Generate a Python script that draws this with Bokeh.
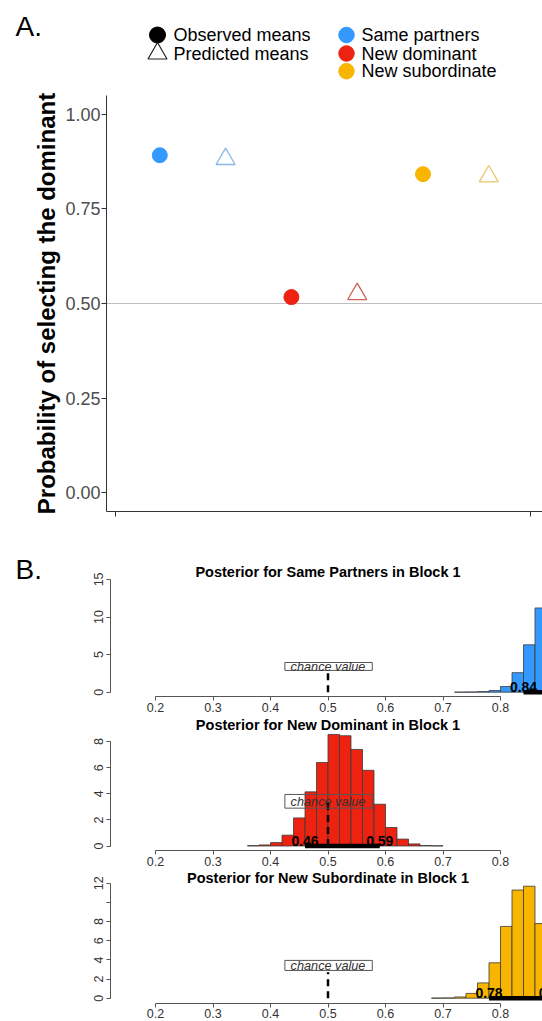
from bokeh.plotting import figure
from bokeh.models import Range1d, FixedTicker, NumeralTickFormatter
from bokeh.layouts import column
from bokeh.embed import file_html
from bokeh.resources import INLINE
from bokeh.core.properties import value

FONT = "Liberation Sans"
W = 542

# ---------------- Panel A data ----------------
groups = ["Same partners", "New dominant", "New subordinate"]
group_colors = ["#3399FF", "#EE2211", "#F7B500"]
pred_colors = ["#86B9E6", "#CF5F5A", "#EBC56B"]
observed_means = [0.892, 0.517, 0.842]
predicted_means = [0.882, 0.525, 0.836]
observed_x = [1, 3, 5]
predicted_x = [2, 4, 6]
a_y_ticks = [0.0, 0.25, 0.5, 0.75, 1.0]
a_x_ticks = [0.33, 6.63]
chance_value = 0.5
a_ylabel = "Probability of selecting the dominant"
shape_labels = ["Observed means", "Predicted means"]

# ---------------- Panel B data ----------------
bin_width = 0.02
sp_bins = [0.72, 0.74, 0.76, 0.78, 0.80, 0.82, 0.84, 0.86]
sp_density = [0.01, 0.03, 0.08, 0.22, 0.76, 2.6, 6.3, 11.2]
nd_bins = [0.36, 0.38, 0.40, 0.42, 0.44, 0.46, 0.48, 0.50, 0.52, 0.54,
           0.56, 0.58, 0.60, 0.62, 0.64, 0.66, 0.68]
nd_density = [0.03, 0.08, 0.26, 0.83, 2.15, 4.15, 6.4, 8.55, 8.45, 7.4,
              5.8, 3.2, 1.42, 0.53, 0.16, 0.04, 0.02]
ns_bins = [0.68, 0.70, 0.72, 0.74, 0.76, 0.78, 0.80, 0.82, 0.84, 0.86]
ns_density = [0.01, 0.03, 0.13, 0.5, 1.6, 3.7, 7.5, 11.3, 11.7, 7.8]
sp_hdi = [0.84, 0.93]
nd_hdi = [0.46, 0.59]
ns_hdi = [0.78, 0.89]
hist_x_ticks = [0.2, 0.3, 0.4, 0.5, 0.6, 0.7, 0.8]
sp_y_ticks = [0, 5, 10, 15]
nd_y_ticks = [0, 2, 4, 6, 8]
ns_y_ticks = [0, 2, 4, 6, 8, 12]
ns_y_unlabeled = [10]
hist_titles = ["Posterior for Same Partners in Block 1",
               "Posterior for New Dominant in Block 1",
               "Posterior for New Subordinate in Block 1"]
chance_label = "chance value"


def base_fig(height, x_range, y_range, axes=True):
    kw = {}
    if not axes:
        kw = dict(x_axis_location=None, y_axis_location=None)
    p = figure(width=W, height=height, x_range=x_range, y_range=y_range,
               toolbar_location=None, output_backend="svg", title=None,
               min_border_left=0, min_border_right=0, min_border_top=0, min_border_bottom=0,
               **kw)
    p.grid.visible = False
    p.outline_line_color = None
    p.background_fill_color = "white"
    p.border_fill_color = "white"
    return p


# ---------------- Legend strip with "A." (pixel-space layout figure) ----------------
leg = base_fig(87, Range1d(0, W), Range1d(87, 0), axes=False)
leg.text(x=[15], y=[25.5], text=["A."], text_font=value(FONT), text_font_size="28px",
         text_baseline="middle", text_align="left", text_color="black")
row_y = [34.5, 53.0, 70.7]
leg.scatter(x=[157], y=[row_y[0]], marker="circle", size=16, fill_color="black", line_color="black")
leg.scatter(x=[157], y=[row_y[1]], marker="triangle", size=19, fill_color=None,
            line_color="#222222", line_width=1.2)
leg.text(x=[173, 173], y=row_y[:2], text=shape_labels, text_font=value(FONT),
         text_font_size="18px", text_baseline="middle", text_align="left", text_color="black")
leg.scatter(x=[346, 346, 346], y=row_y, marker="circle", size=15.5,
            fill_color=group_colors, line_color=group_colors)
leg.text(x=[361, 361, 361], y=row_y, text=groups, text_font=value(FONT),
         text_font_size="18px", text_baseline="middle", text_align="left", text_color="black")

# ---------------- Panel A ----------------
A_AXIS_X = 0.19      # data x where the y axis sits
A_AXIS_Y = -0.05     # data y where the x axis sits
pa = base_fig(453, Range1d(-1.42097, 6.81611), Range1d(-0.12665, 1.07113))
pa.ray(x=[A_AXIS_X], y=[chance_value], length=0, angle=0, line_color="#BEBEBE", line_width=1)
pa.scatter(observed_x, observed_means, marker="circle", size=15,
           fill_color=group_colors, line_color=group_colors)
pa.scatter(predicted_x, predicted_means, marker="triangle", size=19,
           fill_color=None, line_color=pred_colors, line_width=1.3)

ya = pa.yaxis[0]
ya.fixed_location = A_AXIS_X
ya.bounds = (A_AXIS_Y, 1.05)
ya.ticker = FixedTicker(ticks=a_y_ticks)
ya.formatter = NumeralTickFormatter(format="0.00")
ya.axis_label = a_ylabel
ya.axis_label_text_font = FONT
ya.axis_label_text_font_style = "bold"
ya.axis_label_text_font_size = "24px"
ya.axis_label_text_color = "black"
ya.axis_label_standoff = 2
ya.major_label_text_font = FONT
ya.major_label_text_font_size = "18px"
ya.major_label_text_color = "#4D4D4D"
ya.major_label_standoff = 1
ya.major_tick_out = 5
ya.major_tick_in = 0
ya.minor_tick_out = 0
ya.minor_tick_in = 0
ya.axis_line_color = "#333333"
ya.major_tick_line_color = "#333333"

xa = pa.xaxis[0]
xa.fixed_location = A_AXIS_Y
xa.bounds = (A_AXIS_X, 6.81611)
xa.ticker = FixedTicker(ticks=[], minor_ticks=a_x_ticks)
xa.minor_tick_out = 5
xa.minor_tick_in = 0
xa.major_tick_out = 0
xa.major_tick_in = 0
xa.axis_line_color = "#333333"
xa.minor_tick_line_color = "#333333"

# ---------------- Panel B ----------------
HX0 = -0.069565
HX1 = 0.873043
H_AXIS_X = 0.121739


def make_hist(title, bins, dens, color, hdi, yticks, yminor, height,
              y0, y1, axis_y, title_y, dash_top):
    p = base_fig(height, Range1d(HX0, HX1), Range1d(y0, y1))
    rights = [b + bin_width for b in bins]
    p.quad(left=bins, right=rights, bottom=0, top=dens, fill_color=color,
           line_color="#3A3A3A", line_width=0.8)
    p.segment(x0=[hdi[0]], y0=[0], x1=[hdi[1]], y1=[0], line_width=4.5, line_color="black")
    # only the HDI labels that reach into the visible (cropped) area
    shown = [h for h in hdi if h < HX1 + 0.02]
    p.text(x=shown, y=[0] * len(shown), text=["%.2f" % h for h in shown], text_font=value(FONT),
           text_font_size="14px", text_font_style="bold", text_align="center",
           text_baseline="bottom", text_color="black")
    p.segment(x0=[chance_value], y0=[0], x1=[chance_value], y1=[dash_top],
              line_width=2.5, line_color="black", line_dash="7 5")
    p.quad(left=[chance_value - 0.075], right=[chance_value + 0.077], bottom=[2.9], top=[3.95],
           fill_color=None, line_color="#555555", line_width=1)
    p.text(x=[chance_value], y=[3.4], text=[chance_label], text_font=value(FONT),
           text_font_size="12.7px", text_font_style="italic", text_align="center",
           text_baseline="middle", text_color="#333333")
    p.text(x=[0.5], y=[title_y], text=[title], text_font=value(FONT),
           text_font_size="14.5px", text_font_style="bold", text_align="center",
           text_baseline="middle", text_color="black")

    xa = p.xaxis[0]
    xa.fixed_location = axis_y
    xa.ticker = FixedTicker(ticks=hist_x_ticks)
    xa.formatter = NumeralTickFormatter(format="0.0")
    xa.bounds = (hist_x_ticks[0], hist_x_ticks[-1])
    ya = p.yaxis[0]
    ya.fixed_location = H_AXIS_X
    ya.ticker = FixedTicker(ticks=yticks, minor_ticks=yminor)
    ya.formatter = NumeralTickFormatter(format="0")
    ya.bounds = (0, max(yticks + yminor))
    ya.major_label_orientation = "vertical"
    for ax in (xa, ya):
        ax.major_label_text_font = FONT
        ax.major_label_text_font_size = "12.5px"
        ax.major_label_text_color = "#333333"
        ax.major_tick_out = 4
        ax.major_tick_in = 0
        ax.minor_tick_out = 4 if (ax is ya and yminor) else 0
        ax.minor_tick_in = 0
        ax.axis_line_color = "#555555"
        ax.major_tick_line_color = "#555555"
        ax.minor_tick_line_color = "#555555"
    xa.major_label_standoff = 2
    ya.major_label_standoff = 3
    return p


h1 = make_hist(hist_titles[0], sp_bins, sp_density, "#3399FF", sp_hdi, sp_y_ticks, [],
               178, -3.497, 20.173, -0.572, 15.918, 2.95)
h1.text(x=[-0.043478], y=[16.316], text=["B."], text_font=value(FONT), text_font_size="28px",
        text_baseline="middle", text_align="left", text_color="black")
h2 = make_hist(hist_titles[1], nd_bins, nd_density, "#EE2211", nd_hdi, nd_y_ticks, [],
               150, -1.724, 9.770, -0.35, 9.31, 3.6)
h3 = make_hist(hist_titles[2], ns_bins, ns_density, "#F7B500", ns_hdi, ns_y_ticks, ns_y_unlabeled,
               153, -2.435, 13.553, -0.554, 12.612, 2.7)

layout = column(leg, pa, h1, h2, h3, spacing=0)
open("out.html", "w").write(file_html(layout, INLINE))
